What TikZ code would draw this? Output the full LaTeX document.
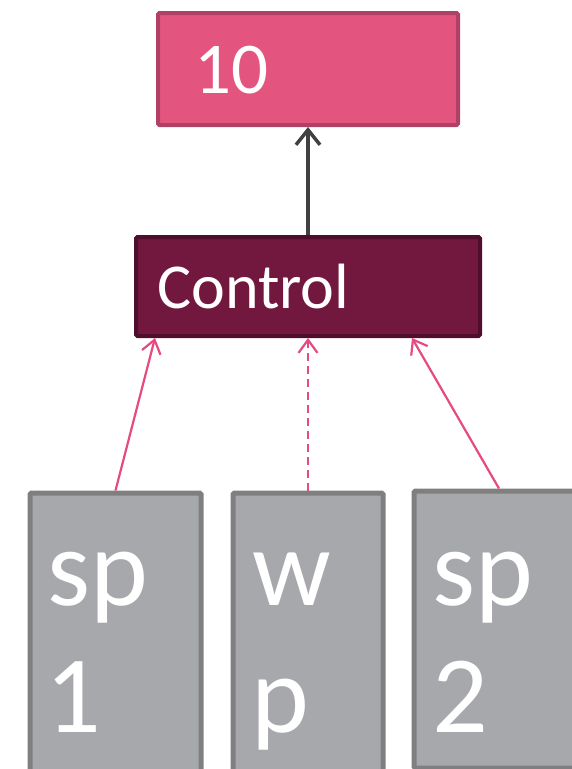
\documentclass[tikz,border=0pt]{standalone}
\usepackage{fontspec}
\setmainfont{Carlito}
\usetikzlibrary{arrows.meta,calc}
\definecolor{pinkfill}{HTML}{E3557F}
\definecolor{pinkline}{HTML}{AE4165}
\definecolor{ctrlfill}{HTML}{72183F}
\definecolor{ctrlline}{HTML}{4F0E2B}
\definecolor{grayfill}{HTML}{A7A8AC}
\definecolor{grayline}{HTML}{7F7F80}
\definecolor{darkarrow}{HTML}{404040}
\definecolor{pinkarrow}{HTML}{E54B82}
\begin{document}
\begin{tikzpicture}[x=1pt,y=-1pt,
  box/.style={draw,rounded corners=1.5pt,inner sep=0pt},
  topbox/.style={box,fill=pinkfill,draw=pinkline,line width=4pt},
  ctrlbox/.style={box,fill=ctrlfill,draw=ctrlline,line width=4pt},
  graybox/.style={box,fill=grayfill,draw=grayline,line width=5pt},
  lbl/.style={text=white,anchor=base west,inner sep=0pt},
  bigtxt/.style={lbl,font=\fontsize{110}{127}\selectfont},
  uparrow/.style={draw=darkarrow,line width=3.5pt,-{Straight Barb[length=15pt,width=24pt,line width=3.5pt]}},
  pinkedge/.style={draw=pinkarrow,line width=2.2pt,-{Straight Barb[length=13pt,width=19pt,line width=2.2pt]}},
  dashedge/.style={pinkedge,dash pattern=on 8pt off 5pt}]
\useasboundingbox (0,0) rectangle (572,769);
\clip (0,0) rectangle (572,769);
% boxes
\node[topbox,minimum width=300pt,minimum height=112pt] (ten) at (308,69) {};
\node[ctrlbox,minimum width=344pt,minimum height=99pt] (ctrl) at (308,286.5) {};
\node[graybox,minimum width=171pt,minimum height=307pt] (sp1) at (115.5,646.5) {};
\node[graybox,minimum width=150pt,minimum height=307pt] (wp) at (308,646.5) {};
\node[graybox,minimum width=170pt,minimum height=277pt] (sp2) at (499,629.5) {};
% texts
\node[lbl,font=\fontsize{73}{80}\selectfont] (tentxt) at (194,93) {10};
\node[lbl,font=\fontsize{64}{70}\selectfont] (ctrltxt) at (157,308) {Control};
\node[bigtxt] (sp1a) at (47,605) {sp};
\node[bigtxt] (sp1b) at (45,732) {1};
\node[bigtxt] (wpa) at (252,605) {w};
\node[bigtxt] (wpb) at (251,732) {p};
\node[bigtxt] (sp2a) at (432,605) {sp};
\node[bigtxt] (sp2b) at (432,732) {2};
% connectors
\draw[uparrow] (ctrl.north) -- (ten.south);
\draw[pinkedge] (sp1.north) -- ($(ctrl.south west)+(21,0)$);
\draw[dashedge] (wp.north) -- (ctrl.south);
\draw[pinkedge] (sp2.north) -- ($(ctrl.south west)+(278,0)$);
\end{tikzpicture}
\end{document}
